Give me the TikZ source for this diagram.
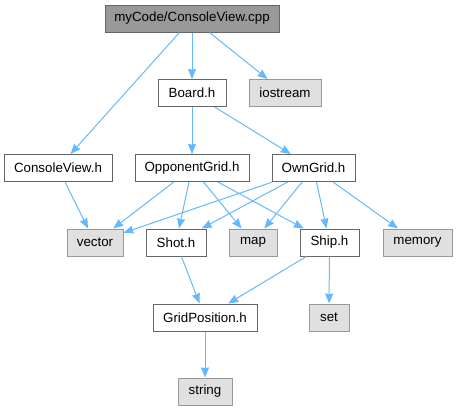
\documentclass[tikz,border=0pt]{standalone}
\usepackage{fontspec}
\setmainfont{Liberation Sans}
\usetikzlibrary{arrows.meta}
\definecolor{edgeblue}{HTML}{63B8FF}
\definecolor{rootgray}{HTML}{999999}
\definecolor{sysgray}{HTML}{E0E0E0}
\definecolor{darkborder}{HTML}{666666}
\definecolor{lightborder}{HTML}{999999}

\begin{document}
\begin{tikzpicture}[x=0.75pt,y=-0.75pt,
  every node/.style={font=\fontsize{10}{12}\selectfont,align=center,minimum height=20.25pt,inner sep=0pt,line width=0.75pt},
  rootfile/.style={draw=darkborder,fill=rootgray},
  hfile/.style={draw=darkborder,fill=white},
  sysfile/.style={draw=lightborder,fill=sysgray},
  dep/.style={draw=edgeblue,line width=0.75pt,-{Stealth[length=7.5pt,width=6pt,inset=0.5pt]}}]
\useasboundingbox (0,0) rectangle (457,411);
\node[rootfile,minimum width=130.5pt] (cpp) at (192,18.5) {myCode/ConsoleView.cpp};
\node[hfile,minimum width=51pt] (board) at (192,93) {Board.h};
\node[sysfile,minimum width=54pt] (iostream) at (285,93) {iostream};
\node[hfile,minimum width=81pt] (cview) at (58,168) {ConsoleView.h};
\node[hfile,minimum width=85.5pt] (oppgrid) at (192,168) {OpponentGrid.h};
\node[hfile,minimum width=62.25pt] (owngrid) at (313.5,168) {OwnGrid.h};
\node[sysfile,minimum width=42pt] (vector) at (95,242.5) {vector};
\node[hfile,minimum width=45pt] (shot) at (176,242.5) {Shot.h};
\node[sysfile,minimum width=36pt] (map) at (253,242.5) {map};
\node[hfile,minimum width=44.25pt] (ship) at (329.5,242.5) {Ship.h};
\node[sysfile,minimum width=51.75pt] (memory) at (417.5,242.5) {memory};
\node[hfile,minimum width=78pt] (gridpos) at (205,317.5) {GridPosition.h};
\node[sysfile,minimum width=30pt] (set) at (329,317.5) {set};
\node[sysfile,minimum width=40.5pt] (string) at (205,391.5) {string};

\draw[dep] (cpp) -- (cview);
\draw[dep] (cpp) -- (board);
\draw[dep] (cpp) -- (iostream);
\draw[dep] (board) -- (oppgrid);
\draw[dep] (board) -- (owngrid);
\draw[dep] (cview) -- (vector);
\draw[dep] (oppgrid) -- (vector);
\draw[dep] (oppgrid) -- (shot);
\draw[dep] (oppgrid) -- (map);
\draw[dep] (oppgrid) -- (ship);
\draw[dep] (owngrid) -- (vector);
\draw[dep] (owngrid) -- (shot);
\draw[dep] (owngrid) -- (map);
\draw[dep] (owngrid) -- (ship);
\draw[dep] (owngrid) -- (memory);
\draw[dep] (shot) -- (gridpos);
\draw[dep] (ship) -- (gridpos);
\draw[dep] (ship) -- (set);
\draw[dep] (gridpos) -- (string);
\end{tikzpicture}
\end{document}
